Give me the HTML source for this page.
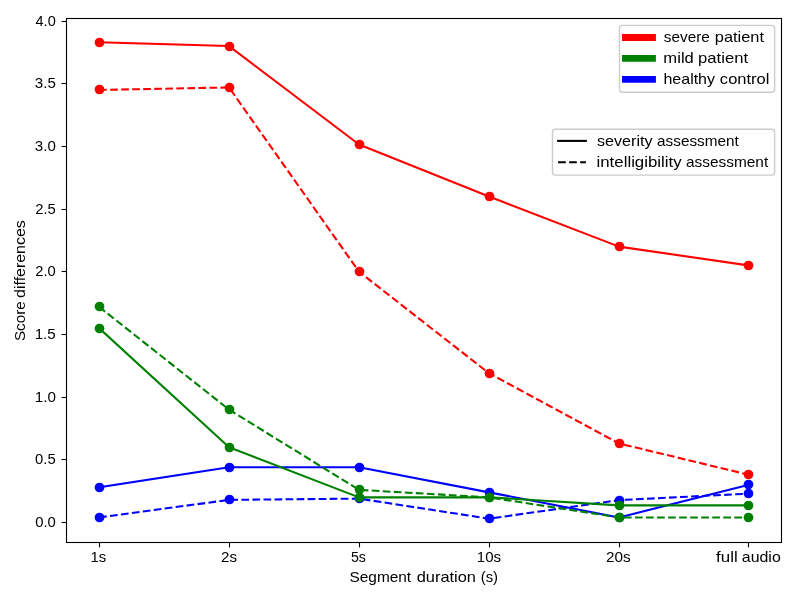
<!DOCTYPE html>
<html><head><meta charset="utf-8"><title>chart</title>
<style>
html,body{margin:0;padding:0;background:#fff;}
body{width:800px;height:600px;overflow:hidden;}
svg{display:block;will-change:transform;}
text{font-family:"Liberation Sans",sans-serif;fill:#000;font-size:14.2px;}
</style></head><body>
<svg width="800" height="600" viewBox="0 0 800 600">
<rect x="0" y="0" width="800" height="600" fill="#ffffff"/>
<polyline points="99.05,487.34 229.04,467.28 359.03,467.28 489.02,492.36 619.00,517.43 749.00,484.83" fill="none" stroke="#0000ff" stroke-width="2.08" stroke-linejoin="round" stroke-linecap="square"/>
<circle cx="99.50" cy="487.50" r="4.86" fill="#0000ff"/>
<circle cx="229.50" cy="467.50" r="4.86" fill="#0000ff"/>
<circle cx="359.50" cy="467.50" r="4.86" fill="#0000ff"/>
<circle cx="489.50" cy="492.50" r="4.86" fill="#0000ff"/>
<circle cx="619.50" cy="517.50" r="4.86" fill="#0000ff"/>
<circle cx="748.50" cy="484.50" r="4.86" fill="#0000ff"/>
<polyline points="99.05,517.43 229.04,499.88 359.03,498.62 489.02,518.68 619.00,500.13 749.00,493.61" fill="none" stroke="#0000ff" stroke-width="2.08" stroke-linejoin="round" stroke-linecap="butt" stroke-dasharray="7.71 3.33"/>
<circle cx="99.50" cy="517.50" r="4.86" fill="#0000ff"/>
<circle cx="229.50" cy="499.50" r="4.86" fill="#0000ff"/>
<circle cx="359.50" cy="498.50" r="4.86" fill="#0000ff"/>
<circle cx="489.50" cy="518.50" r="4.86" fill="#0000ff"/>
<circle cx="619.50" cy="500.50" r="4.86" fill="#0000ff"/>
<circle cx="748.50" cy="493.50" r="4.86" fill="#0000ff"/>
<polyline points="99.05,328.14 229.04,447.23 359.03,497.37 489.02,497.37 619.00,505.39 749.00,505.39" fill="none" stroke="#008000" stroke-width="2.08" stroke-linejoin="round" stroke-linecap="square"/>
<circle cx="99.50" cy="328.50" r="4.86" fill="#008000"/>
<circle cx="229.50" cy="447.50" r="4.86" fill="#008000"/>
<circle cx="359.50" cy="497.50" r="4.86" fill="#008000"/>
<circle cx="489.50" cy="497.50" r="4.86" fill="#008000"/>
<circle cx="619.50" cy="505.50" r="4.86" fill="#008000"/>
<circle cx="748.50" cy="505.50" r="4.86" fill="#008000"/>
<polyline points="99.05,306.83 229.04,409.62 359.03,489.85 489.02,497.37 619.00,517.43 749.00,517.43" fill="none" stroke="#008000" stroke-width="2.08" stroke-linejoin="round" stroke-linecap="butt" stroke-dasharray="7.71 3.33"/>
<circle cx="99.50" cy="306.50" r="4.86" fill="#008000"/>
<circle cx="229.50" cy="409.50" r="4.86" fill="#008000"/>
<circle cx="359.50" cy="489.50" r="4.86" fill="#008000"/>
<circle cx="489.50" cy="497.50" r="4.86" fill="#008000"/>
<circle cx="619.50" cy="517.50" r="4.86" fill="#008000"/>
<circle cx="748.50" cy="517.50" r="4.86" fill="#008000"/>
<polyline points="99.05,42.32 229.04,46.08 359.03,144.49 489.02,196.51 619.00,246.65 749.00,265.46" fill="none" stroke="#ff0000" stroke-width="2.08" stroke-linejoin="round" stroke-linecap="square"/>
<circle cx="99.50" cy="42.50" r="4.86" fill="#ff0000"/>
<circle cx="229.50" cy="46.50" r="4.86" fill="#ff0000"/>
<circle cx="359.50" cy="144.50" r="4.86" fill="#ff0000"/>
<circle cx="489.50" cy="196.50" r="4.86" fill="#ff0000"/>
<circle cx="619.50" cy="246.50" r="4.86" fill="#ff0000"/>
<circle cx="748.50" cy="265.50" r="4.86" fill="#ff0000"/>
<polyline points="99.05,89.95 229.04,87.45 359.03,271.72 489.02,373.27 619.00,443.47 749.00,474.81" fill="none" stroke="#ff0000" stroke-width="2.08" stroke-linejoin="round" stroke-linecap="butt" stroke-dasharray="7.71 3.33"/>
<circle cx="99.50" cy="89.50" r="4.86" fill="#ff0000"/>
<circle cx="229.50" cy="87.50" r="4.86" fill="#ff0000"/>
<circle cx="359.50" cy="271.50" r="4.86" fill="#ff0000"/>
<circle cx="489.50" cy="373.50" r="4.86" fill="#ff0000"/>
<circle cx="619.50" cy="443.50" r="4.86" fill="#ff0000"/>
<circle cx="748.50" cy="474.50" r="4.86" fill="#ff0000"/>
<rect x="66.5" y="18.5" width="715.0" height="524.0" fill="none" stroke="#000" stroke-width="1.1"/>
<line x1="99.5" y1="542.5" x2="99.5" y2="547.4" stroke="#000" stroke-width="1.1"/>
<line x1="229.5" y1="542.5" x2="229.5" y2="547.4" stroke="#000" stroke-width="1.1"/>
<line x1="359.5" y1="542.5" x2="359.5" y2="547.4" stroke="#000" stroke-width="1.1"/>
<line x1="489.5" y1="542.5" x2="489.5" y2="547.4" stroke="#000" stroke-width="1.1"/>
<line x1="619.5" y1="542.5" x2="619.5" y2="547.4" stroke="#000" stroke-width="1.1"/>
<line x1="748.5" y1="542.5" x2="748.5" y2="547.4" stroke="#000" stroke-width="1.1"/>
<line x1="61.6" y1="522.5" x2="66.5" y2="522.5" stroke="#000" stroke-width="1.1"/>
<line x1="61.6" y1="459.5" x2="66.5" y2="459.5" stroke="#000" stroke-width="1.1"/>
<line x1="61.6" y1="397.5" x2="66.5" y2="397.5" stroke="#000" stroke-width="1.1"/>
<line x1="61.6" y1="334.5" x2="66.5" y2="334.5" stroke="#000" stroke-width="1.1"/>
<line x1="61.6" y1="271.5" x2="66.5" y2="271.5" stroke="#000" stroke-width="1.1"/>
<line x1="61.6" y1="209.5" x2="66.5" y2="209.5" stroke="#000" stroke-width="1.1"/>
<line x1="61.6" y1="146.5" x2="66.5" y2="146.5" stroke="#000" stroke-width="1.1"/>
<line x1="61.6" y1="83.5" x2="66.5" y2="83.5" stroke="#000" stroke-width="1.1"/>
<line x1="61.6" y1="21.5" x2="66.5" y2="21.5" stroke="#000" stroke-width="1.1"/>
<rect x="619.5" y="25.4" width="155.1" height="66.9" rx="2.8" ry="2.8" fill="#ffffff" fill-opacity="0.8" stroke="#cccccc" stroke-width="1.39"/>
<line x1="622.0" y1="37.5" x2="655.9" y2="37.5" stroke="#ff0000" stroke-width="6.94"/>
<line x1="622.0" y1="58.4" x2="655.9" y2="58.4" stroke="#008000" stroke-width="6.94"/>
<line x1="622.0" y1="79.4" x2="655.9" y2="79.4" stroke="#0000ff" stroke-width="6.94"/>
<rect x="552.5" y="129.2" width="222.1" height="45.9" rx="2.8" ry="2.8" fill="#ffffff" fill-opacity="0.8" stroke="#cccccc" stroke-width="1.39"/>
<line x1="557.1" y1="140.9" x2="586.9" y2="140.9" stroke="#000" stroke-width="2.08"/>
<line x1="558.1" y1="162.2" x2="585.9" y2="162.2" stroke="#000" stroke-width="2.08" stroke-dasharray="7.71 3.33"/>
<text x="90.55" y="562.00" textLength="15.71" lengthAdjust="spacingAndGlyphs">1s</text>
<text x="221.02" y="562.00" textLength="15.90" lengthAdjust="spacingAndGlyphs">2s</text>
<text x="350.91" y="562.00" textLength="14.94" lengthAdjust="spacingAndGlyphs">5s</text>
<text x="476.84" y="562.00" textLength="24.27" lengthAdjust="spacingAndGlyphs">10s</text>
<text x="605.90" y="562.00" textLength="24.65" lengthAdjust="spacingAndGlyphs">20s</text>
<text x="716.10" y="562.00" textLength="21.60" lengthAdjust="spacingAndGlyphs">full</text>
<text x="741.80" y="562.00" textLength="38.94" lengthAdjust="spacingAndGlyphs">audio</text>
<text x="349.50" y="581.90" textLength="61.65" lengthAdjust="spacingAndGlyphs">Segment</text>
<text x="416.69" y="581.90" textLength="59.28" lengthAdjust="spacingAndGlyphs">duration</text>
<text x="480.70" y="581.90" textLength="17.39" lengthAdjust="spacingAndGlyphs">(s)</text>
<text x="663.86" y="42.00" textLength="46.00" lengthAdjust="spacingAndGlyphs">severe</text>
<text x="714.83" y="42.00" textLength="49.13" lengthAdjust="spacingAndGlyphs">patient</text>
<text x="663.38" y="63.00" textLength="30.45" lengthAdjust="spacingAndGlyphs">mild</text>
<text x="698.14" y="63.00" textLength="49.92" lengthAdjust="spacingAndGlyphs">patient</text>
<text x="663.46" y="84.00" textLength="51.56" lengthAdjust="spacingAndGlyphs">healthy</text>
<text x="719.88" y="84.00" textLength="49.56" lengthAdjust="spacingAndGlyphs">control</text>
<text x="596.93" y="145.60" textLength="55.65" lengthAdjust="spacingAndGlyphs">severity</text>
<text x="657.09" y="145.60" textLength="81.63" lengthAdjust="spacingAndGlyphs">assessment</text>
<text x="596.51" y="166.60" textLength="85.18" lengthAdjust="spacingAndGlyphs">intelligibility</text>
<text x="686.07" y="166.60" textLength="82.14" lengthAdjust="spacingAndGlyphs">assessment</text>
<text transform="translate(24.70,341.02) rotate(-90)" textLength="39.64" lengthAdjust="spacingAndGlyphs">Score</text>
<text transform="translate(24.70,297.91) rotate(-90)" textLength="77.65" lengthAdjust="spacingAndGlyphs">differences</text>
<text x="35.15" y="526.80" textLength="20.68" lengthAdjust="spacingAndGlyphs">0.0</text>
<text x="35.12" y="463.80" textLength="20.64" lengthAdjust="spacingAndGlyphs">0.5</text>
<text x="34.69" y="401.80" textLength="21.18" lengthAdjust="spacingAndGlyphs">1.0</text>
<text x="34.66" y="338.80" textLength="21.10" lengthAdjust="spacingAndGlyphs">1.5</text>
<text x="35.19" y="275.80" textLength="20.49" lengthAdjust="spacingAndGlyphs">2.0</text>
<text x="35.17" y="213.80" textLength="20.60" lengthAdjust="spacingAndGlyphs">2.5</text>
<text x="34.82" y="150.80" textLength="20.96" lengthAdjust="spacingAndGlyphs">3.0</text>
<text x="34.82" y="87.80" textLength="21.04" lengthAdjust="spacingAndGlyphs">3.5</text>
<text x="35.55" y="25.80" textLength="20.19" lengthAdjust="spacingAndGlyphs">4.0</text>
</svg></body></html>
